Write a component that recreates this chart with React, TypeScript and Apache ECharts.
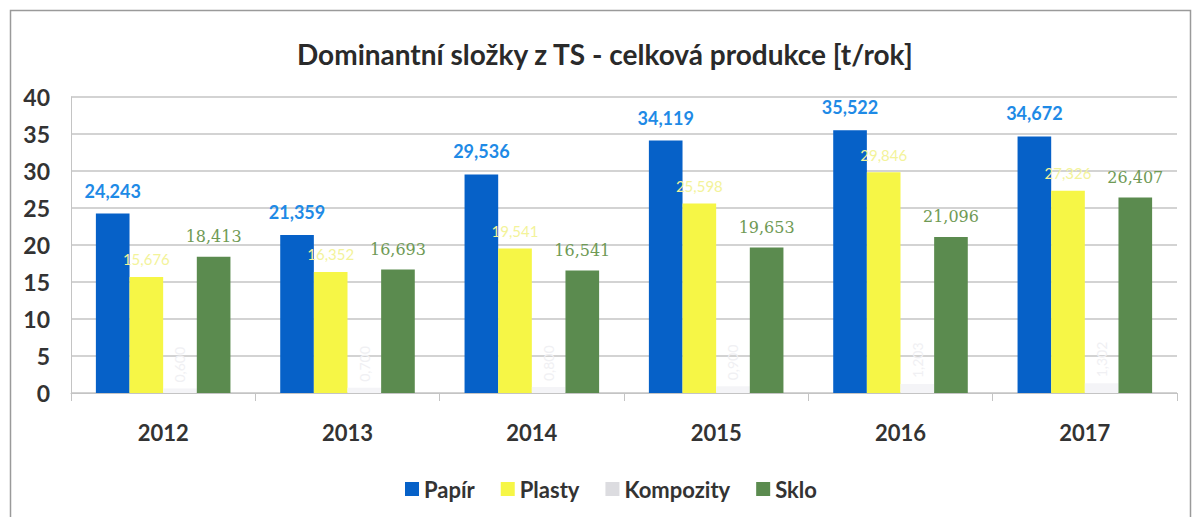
import React, { useEffect, useRef } from "react";
import * as echarts from "echarts";

const years = ["2012", "2013", "2014", "2015", "2016", "2017"];
const papir = [24.243, 21.359, 29.536, 34.119, 35.522, 34.672];
const plasty = [15.676, 16.352, 19.541, 25.598, 29.846, 27.326];
const kompozity = [0.6, 0.7, 0.8, 0.9, 1.203, 1.302];
const sklo = [18.413, 16.693, 16.541, 19.653, 21.096, 26.407];
const titleText = "Dominantní složky z TS - celková produkce [t/rok]";

const FONT = "Lato, 'Open Sans', sans-serif";
const fmt = (p: any) => Number(p.value).toFixed(3).replace(".", ",");

export default function App() {
  const ref = useRef<HTMLDivElement>(null);
  useEffect(() => {
    document.body.style.margin = "0";
    const chart = echarts.init(ref.current!, null, { renderer: "svg" });
    chart.setOption({
      animation: false,
      backgroundColor: "#ffffff",
      textStyle: { fontFamily: FONT },
      title: {
        text: titleText,
        left: 292,
        top: 35,
        textStyle: { fontFamily: FONT, fontSize: 28, fontWeight: "bold", color: "#2a2a2a" },
      },
      graphic: [
        {
          type: "rect",
          shape: { x: 10.5, y: 10.5, width: 1180, height: 520 },
          style: { fill: "none", stroke: "#9a9a9a", lineWidth: 1.5 },
          silent: true,
        },
      ],
      legend: {
        left: 400,
        top: 473,
        icon: "rect",
        itemWidth: 14,
        itemHeight: 14,
        itemGap: 26,
        textStyle: { fontFamily: FONT, fontSize: 22, fontWeight: "bold", color: "#333333" },
        data: [
          { name: "Papír" },
          { name: "Plasty" },
          { name: "Kompozity", itemStyle: { color: "#dcdce0" } },
          { name: "Sklo" },
        ],
      },
      grid: { left: 71, right: 16, top: 97, bottom: 124, containLabel: false },
      xAxis: {
        type: "category",
        data: years,
        axisLine: { lineStyle: { color: "#c4c4c4" } },
        axisTick: { show: true, length: 8, lineStyle: { color: "#c4c4c4" } },
        axisLabel: { fontFamily: FONT, fontSize: 22, fontWeight: "bold", color: "#333333", margin: 28 },
      },
      yAxis: {
        type: "value",
        min: 0,
        max: 40,
        interval: 5,
        axisLine: { show: true, lineStyle: { color: "#c4c4c4" } },
        axisLabel: { fontFamily: FONT, fontSize: 23, fontWeight: "bold", color: "#333333", margin: 21 },
        splitLine: { lineStyle: { color: "#c4c4c4", width: 1.5 } },
      },
      series: [
        {
          name: "Papír",
          type: "bar",
          data: papir,
          barGap: "0%",
          barCategoryGap: "27%",
          itemStyle: { color: "#0661c8" },
          label: {
            show: true,
            position: "top",
            distance: 14,
            formatter: fmt,
            fontFamily: FONT,
            fontSize: 18,
            fontWeight: "bold",
            color: "#1e8ae6",
          },
        },
        {
          name: "Plasty",
          type: "bar",
          data: plasty,
          itemStyle: { color: "#f6f646" },
          label: {
            show: true,
            position: "top",
            distance: 10,
            formatter: fmt,
            fontFamily: FONT,
            fontSize: 15,
            color: "#f3f39a",
          },
        },
        {
          name: "Kompozity",
          type: "bar",
          data: kompozity,
          itemStyle: { color: "#f4f4f7" },
          label: {
            show: true,
            position: "top",
            rotate: 90,
            align: "left",
            verticalAlign: "middle",
            distance: 6,
            formatter: fmt,
            fontFamily: FONT,
            fontSize: 14,
            color: "#f0f0f3",
          },
        },
        {
          name: "Sklo",
          type: "bar",
          data: sklo,
          itemStyle: { color: "#5b8b4f" },
          label: {
            show: true,
            position: "top",
            distance: 12,
            formatter: fmt,
            fontFamily: "'DejaVu Serif', serif",
            fontSize: 16,
            color: "#6f9a55",
          },
        },
      ],
    });
    return () => chart.dispose();
  }, []);
  return <div ref={ref} style={{ width: 1193, height: 517 }} />;
}
